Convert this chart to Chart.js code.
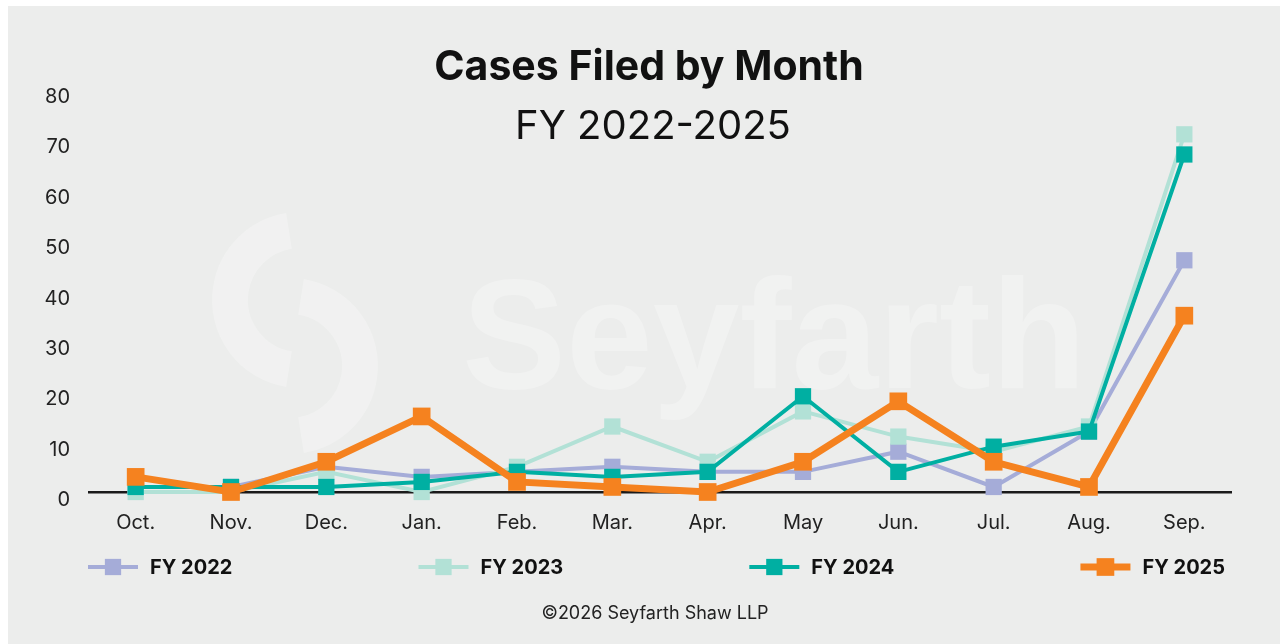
<!DOCTYPE html>
<html>
<head>
<meta charset="utf-8">
<script src="https://cdn.jsdelivr.net/npm/chart.js@4.4.1/dist/chart.umd.min.js"></script>
<style>
  html, body { margin: 0; padding: 0; background: #ffffff; }
  #wrap { width: 1280px; height: 644px; position: relative; }
</style>
</head>
<body>
<div id="wrap"><canvas id="chart" width="1280" height="644"></canvas></div>
<script>
// Data
const months = ['Oct.', 'Nov.', 'Dec.', 'Jan.', 'Feb.', 'Mar.', 'Apr.', 'May', 'Jun.', 'Jul.', 'Aug.', 'Sep.'];
const fy2022 = [1, 1, 5, 3, 4, 5, 4, 4, 8, 1, 12, 46];
const fy2023 = [0, 0, 4, 0, 5, 13, 6, 16, 11, 8, 13, 71];
const fy2024 = [1, 1, 1, 2, 4, 3, 4, 19, 4, 9, 12, 67];
const fy2025 = [3, 0, 6, 15, 2, 1, 0, 6, 18, 6, 1, 35];
const seriesNames = ['FY 2022', 'FY 2023', 'FY 2024', 'FY 2025'];
const seriesColors = ['#a5acd8', '#b2e1d6', '#00afa2', '#f5821f'];
const yMin = 0, yMax = 80, yStep = 10;

const FONT = "Inter, 'Noto Sans', sans-serif";
const BG = '#ecedec';

function makeSeries(label, data, color, width, radius, order) {
    return {
        label: label,
        data: data,
        borderColor: color,
        backgroundColor: color,
        pointBackgroundColor: color,
        pointBorderColor: color,
        borderWidth: width,
        pointStyle: 'rect',
        pointRadius: radius,
        pointHoverRadius: radius,
        pointBorderWidth: 0,
        tension: 0,
        fill: false,
        clip: false,
        order: order
    };
}

// background panel + watermark + titles + legend
const decorPlugin = {
    id: 'decor',
    beforeDraw(chart) {
        const c = chart.ctx;
        c.save();
        c.fillStyle = BG;
        c.fillRect(8, 6, chart.width - 8, chart.height - 6);
        // faint watermark
        c.fillStyle = 'rgba(255,255,255,0.28)';
        c.font = "bold 156px 'Liberation Sans', Arial, sans-serif";
        c.textBaseline = 'alphabetic';
        c.textAlign = 'left';
        c.fillText('Seyfarth', 462, 388);
        c.lineWidth = 36;
        c.strokeStyle = 'rgba(255,255,255,0.26)';
        c.beginPath();
        c.arc(300, 300, 70, Math.PI * 0.55, Math.PI * 1.45);
        c.stroke();
        c.beginPath();
        c.arc(290, 366, 70, -Math.PI * 0.45, Math.PI * 0.45);
        c.stroke();
        c.restore();
    },
    afterDraw(chart) {
        const c = chart.ctx;
        c.save();
        c.fillStyle = '#111111';
        c.textAlign = 'center';
        c.textBaseline = 'middle';
        c.font = `bold 41px ${FONT}`;
        c.fillText('Cases Filed by Month', 649, 68);
        c.font = `40px ${FONT}`;
        c.fillText('FY 2022-2025', 653, 127);
        c.fillStyle = '#222222';
        c.font = `18px ${FONT}`;
        c.fillText('\u00A92026 Seyfarth Shaw LLP', 655, 614);

        // legend spread across the plot width
        const ds = chart.data.datasets.slice().sort((a, b) => seriesNames.indexOf(a.label) - seriesNames.indexOf(b.label));
        c.font = `bold 20px ${FONT}`;
        c.textAlign = 'left';
        const symW = 50, gap = 12;
        const widths = ds.map(d => symW + gap + c.measureText(d.label).width);
        const left = chart.chartArea.left, right = 1225;
        const spare = (right - left) - widths.reduce((a, b) => a + b, 0);
        const step = spare / (ds.length - 1);
        let x = left;
        const y = 567;
        ds.forEach((d, i) => {
            c.strokeStyle = d.borderColor;
            c.lineWidth = d.borderWidth;
            c.beginPath();
            c.moveTo(x, y);
            c.lineTo(x + symW, y);
            c.stroke();
            const s = d.pointRadius * Math.SQRT1_2;
            c.fillStyle = d.borderColor;
            c.fillRect(x + symW / 2 - s, y - s, 2 * s, 2 * s);
            c.fillStyle = '#111111';
            c.fillText(d.label, x + symW + gap, y + 1);
            x += widths[i] + step;
        });
        c.restore();
    }
};

const ctx = document.getElementById('chart').getContext('2d');
const chart = new Chart(ctx, {
    type: 'line',
    data: {
        labels: months,
        datasets: [
            makeSeries(seriesNames[0], fy2022, seriesColors[0], 4, 11.5, 3),
            makeSeries(seriesNames[1], fy2023, seriesColors[1], 4, 11.5, 2),
            makeSeries(seriesNames[2], fy2024, seriesColors[2], 4, 11.5, 1),
            makeSeries(seriesNames[3], fy2025, seriesColors[3], 7, 12.5, 0)
        ]
    },
    options: {
        responsive: false,
        animation: false,
        devicePixelRatio: 1,
        layout: { padding: { left: 8, top: 89, right: 48, bottom: 0 } },
        plugins: {
            legend: { display: false },
            title: { display: false },
            tooltip: { enabled: false }
        },
        scales: {
            x: {
                offset: true,
                grid: { display: false, drawTicks: false },
                border: { display: false },
                ticks: { padding: 19, color: '#222222', font: { family: FONT, size: 20 } },
                afterFit: s => { s.height = 152; }
            },
            y: {
                min: yMin,
                max: yMax,
                border: { display: false },
                grid: {
                    drawTicks: false,
                    color: c => (c.tick && c.tick.value === 0 ? '#1a1a1a' : 'rgba(0,0,0,0)'),
                    lineWidth: 2.5
                },
                ticks: {
                    stepSize: yStep,
                    padding: 18,
                    labelOffset: 8,
                    color: '#222222',
                    font: { family: FONT, size: 20 }
                },
                afterFit: s => { s.width = 80; }
            }
        }
    },
    plugins: [decorPlugin]
});
</script>
</body>
</html>
